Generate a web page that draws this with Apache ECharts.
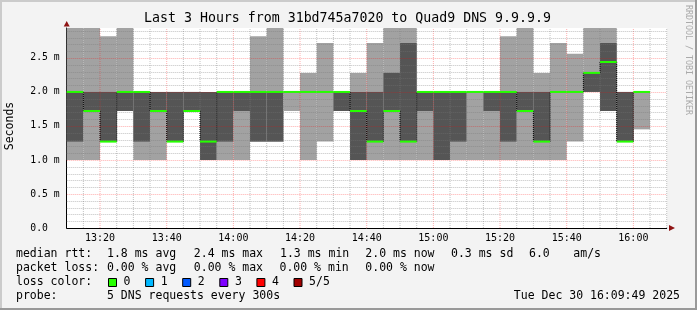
<!DOCTYPE html>
<html><head><meta charset="utf-8">
<script src="https://cdn.jsdelivr.net/npm/echarts@6/dist/echarts.min.js"></script>
<style>html,body{margin:0;padding:0;background:#f3f3f3}#c{width:697px;height:310px}</style>
</head><body><div id="c"></div><script>
// 5-minute slots (start times)
const slotStart = ['13:10','13:15','13:20','13:25','13:30','13:35','13:40','13:45','13:50','13:55',
  '14:00','14:05','14:10','14:15','14:20','14:25','14:30','14:35','14:40','14:45',
  '14:50','14:55','15:00','15:05','15:10','15:15','15:20','15:25','15:30','15:35',
  '15:40','15:45','15:50','15:55','16:00','16:05'];
// sorted pings per slot (ms): lowest .. highest, median is ping3
const ping1 = [1.00,1.00,1.27,1.72,1.00,1.00,1.27,1.72,1.00,1.00,1.00,1.27,1.27,1.72,1.00,1.27,1.72,1.00,1.00,1.00,1.00,1.00,1.00,1.00,1.00,1.00,1.00,1.00,1.00,1.00,1.27,2.00,1.72,1.27,1.45,null];
const ping2 = [1.27,1.72,1.27,1.72,1.27,1.72,1.27,1.72,1.00,1.27,1.72,1.27,1.27,2.00,2.00,2.00,1.72,1.00,1.27,1.72,1.27,1.72,1.00,1.27,2.00,1.72,1.27,1.72,1.27,2.00,2.00,2.00,1.72,1.27,2.00,null];
const ping3 = [2.00,1.72,1.27,2.00,2.00,1.72,1.27,1.72,1.27,2.00,2.00,2.00,2.00,2.00,2.00,2.00,2.00,1.72,1.27,1.72,1.27,2.00,2.00,2.00,2.00,2.00,2.00,1.72,1.27,2.00,2.00,2.28,2.44,1.27,2.00,null];
const ping4 = [2.00,2.00,2.00,2.00,2.00,2.00,2.00,2.00,2.00,2.00,2.00,2.00,2.00,2.00,2.00,2.00,2.00,2.00,2.00,2.28,2.72,2.00,2.00,2.00,2.00,2.00,2.00,2.00,2.00,2.00,2.00,2.28,2.72,2.00,2.00,null];
const ping5 = [2.94,2.94,2.82,2.94,2.00,2.00,2.00,2.00,2.00,2.00,2.00,2.82,2.94,2.00,2.28,2.72,2.00,2.28,2.72,2.94,2.94,2.00,2.00,2.00,2.00,2.00,2.82,2.94,2.28,2.72,2.56,2.94,2.94,2.00,2.00,null];
// axes
const xStart = '13:10', xEnd = '16:10';
const xLabelTimes = ['13:20','13:40','14:00','14:20','14:40','15:00','15:20','15:40','16:00'];
const yMajorTicks = [0.5,1.0,1.5,2.0,2.5];
const yMax = 2.94;
const lossLabels = ['0','1','2','3','4','5/5'];
const lossColors = ['#26ff00','#00b8ff','#0059ff','#7e00ff','#ff0000','#a10000'];

const toMin = s => { const p = s.split(':'); return (+p[0])*60 + (+p[1]); };
const SLOT = 5;
const xMin = toMin(xStart), xMax = toMin(xEnd);
const majorX = xLabelTimes.map(toMin);

const smokeData = [], medData = [], stepData = [];
slotStart.forEach((s, i) => {
  if (ping3[i] == null) return;
  const t = toMin(s);
  smokeData.push([t, ping1[i], ping2[i], ping3[i], ping4[i], ping5[i]]);
  medData.push([t, ping3[i]]);
  if (i > 0 && ping3[i-1] != null && ping3[i-1] !== ping3[i]) stepData.push([t, ping3[i-1], ping3[i]]);
});
const vGrid = [];
for (let t = xMin + SLOT; t <= xMax; t += SLOT) vGrid.push([t, majorX.indexOf(t) >= 0 ? 1 : 0]);
const hGrid = [];
for (let k = 1; k <= 29; k++) { const v = k/10; hGrid.push([v, (k % 5 === 0) ? 1 : 0]); }

const FONT = "'DejaVu Sans Mono', monospace";
const MINOR = 'rgba(120,120,120,0.45)', MAJOR = 'rgba(255,0,0,0.32)';

function renderSmoke(params, api) {
  const t = api.value(0);
  const a = api.coord([t, api.value(5)]), b = api.coord([t + SLOT, api.value(1)]);
  const c = api.coord([t, api.value(4)]), d = api.coord([t + SLOT, api.value(2)]);
  return { type: 'group', children: [
    { type: 'rect', shape: { x: a[0], y: a[1], width: b[0]-a[0], height: b[1]-a[1] }, style: { fill: '#a2a2a2' } },
    { type: 'rect', shape: { x: c[0], y: c[1], width: d[0]-c[0], height: d[1]-c[1] }, style: { fill: '#555555' } }
  ]};
}
function renderMedian(params, api) {
  const t = api.value(0), m = api.value(1);
  const a = api.coord([t, m]), b = api.coord([t + SLOT, m]);
  return { type: 'rect', shape: { x: a[0], y: a[1]-1, width: b[0]-a[0], height: 2 }, style: { fill: '#26ff00' } };
}
function renderStep(params, api) {
  const t = api.value(0);
  const a = api.coord([t, api.value(1)]), b = api.coord([t, api.value(2)]);
  return { type: 'line', shape: { x1: a[0], y1: a[1], x2: b[0], y2: b[1] }, style: { stroke: '#000', lineWidth: 1, lineDash: [1, 1] } };
}
function renderVGrid(params, api) {
  const t = api.value(0);
  const a = api.coord([t, 0]), b = api.coord([t, yMax]);
  return { type: 'line', shape: { x1: a[0], y1: a[1], x2: b[0], y2: b[1] }, style: { stroke: api.value(1) ? MAJOR : MINOR, lineWidth: 1, lineDash: [1, 1] } };
}
function renderHGrid(params, api) {
  const v = api.value(0);
  const a = api.coord([xMin, v]), b = api.coord([xMax, v]);
  const y = Math.round(a[1]) + 0.5;
  return { type: 'line', shape: { x1: a[0], y1: y, x2: b[0], y2: y }, style: { stroke: api.value(1) ? MAJOR : MINOR, lineWidth: 1, lineDash: [1, 1] } };
}

const txt = (text, x, y, opt) => Object.assign({ type: 'text', x: x, y: y, z: 20,
  style: Object.assign({ text: text, font: '11.5px ' + FONT, fill: '#000', align: 'left', verticalAlign: 'middle' }, (opt && opt.style) || {}) },
  opt && opt.rotation != null ? { rotation: opt.rotation } : {});

const graphics = [
  txt('Last 3 Hours from 31bd745a7020 to Quad9 DNS 9.9.9.9', 347.5, 19, { style: { font: '13.25px ' + FONT, align: 'center' } }),
  txt('Seconds', 10.5, 126, { rotation: Math.PI/2, style: { align: 'center' } }),
  txt('RRDTOOL / TOBI OETIKER', 688, 60, { rotation: -Math.PI/2, style: { font: '8.3px ' + FONT, fill: '#aaaaaa', align: 'center' } }),
  txt('median rtt:', 16, 254.3), txt('1.8 ms avg', 107, 254.3), txt('2.4 ms max', 193.8, 254.3),
  txt('1.3 ms min', 280, 254.3), txt('2.0 ms now', 365.3, 254.3), txt('0.3 ms sd', 451, 254.3),
  txt('6.0', 529, 254.3), txt('am/s', 573.3, 254.3),
  txt('packet loss:', 16, 268.3), txt('0.00 % avg', 107, 268.3), txt('0.00 % max', 193.8, 268.3),
  txt('0.00 % min', 279.5, 268.3), txt('0.00 % now', 365.3, 268.3),
  txt('loss color:', 16, 282.3),
  txt('probe:', 16, 296), txt('5 DNS requests every 300s', 107, 296),
  txt('Tue Dec 30 16:09:49 2025', 680, 296, { style: { align: 'right' } }),
  { type: 'polygon', z: 20, shape: { points: [[63.7, 26.5], [69.7, 26.5], [66.7, 21]] }, style: { fill: '#8f1414' } },
  { type: 'polygon', z: 20, shape: { points: [[669, 225], [669, 231], [675, 228]] }, style: { fill: '#8f1414' } },
  { type: 'rect', z: 30, shape: { x: 0, y: 0, width: 697, height: 2 }, style: { fill: '#cbcbcb' } },
  { type: 'rect', z: 30, shape: { x: 0, y: 0, width: 2, height: 310 }, style: { fill: '#cbcbcb' } },
  { type: 'rect', z: 31, shape: { x: 695, y: 0, width: 2, height: 310 }, style: { fill: '#999999' } },
  { type: 'rect', z: 31, shape: { x: 0, y: 308, width: 697, height: 2 }, style: { fill: '#999999' } }
];
lossLabels.forEach((l, i) => {
  const bx = 108.5 + 37.1 * i;
  graphics.push({ type: 'rect', z: 20, shape: { x: bx, y: 278.5, width: 8, height: 8 }, style: { fill: lossColors[i], stroke: '#000', lineWidth: 1 } });
  graphics.push(txt(l, 123.6 + 37.1 * i, 282.3));
});

const chart = echarts.init(document.getElementById('c'), null, { renderer: 'canvas', width: 697, height: 310 });
chart.setOption({
  animation: false,
  backgroundColor: '#f3f3f3',
  grid: { left: 66.7, top: 28, width: 600, height: 200, show: true, backgroundColor: '#ffffff', borderWidth: 0, containLabel: false, outerBoundsMode: 'none' },
  xAxis: {
    type: 'value', min: xMin, max: xMax, interval: 10,
    axisLine: { show: true, lineStyle: { color: '#000', width: 1 } },
    axisTick: { show: false }, splitLine: { show: false },
    axisLabel: { margin: 5, fontFamily: FONT, fontSize: 10, color: '#000',
      formatter: v => { const m = Math.round(v); if (majorX.indexOf(m) < 0) return '';
        return String(Math.floor(m/60)).padStart(2,'0') + ':' + String(m%60).padStart(2,'0'); } }
  },
  yAxis: {
    type: 'value', min: 0, max: yMax, interval: 0.5,
    axisLine: { show: true, lineStyle: { color: '#000', width: 1 } },
    axisTick: { show: false }, splitLine: { show: false },
    axisLabel: { margin: 7, fontFamily: FONT, fontSize: 9.75, color: '#000', showMaxLabel: false,
      formatter: v => { if (Math.abs(v*2 - Math.round(v*2)) > 1e-6 || v > 2.6) return '';
        return v === 0 ? '0.0  ' : v.toFixed(1) + ' m'; } }
  },
  graphic: graphics,
  series: [
    { type: 'custom', name: 'smoke', renderItem: renderSmoke, data: smokeData, z: 2, clip: true, silent: true },
    { type: 'custom', name: 'vgrid', renderItem: renderVGrid, data: vGrid, z: 3, silent: true },
    { type: 'custom', name: 'hgrid', renderItem: renderHGrid, data: hGrid, z: 3, silent: true },
    { type: 'custom', name: 'steps', renderItem: renderStep, data: stepData, z: 4, silent: true },
    { type: 'custom', name: 'median', renderItem: renderMedian, data: medData, z: 5, silent: true }
  ]
});
</script></body></html>
